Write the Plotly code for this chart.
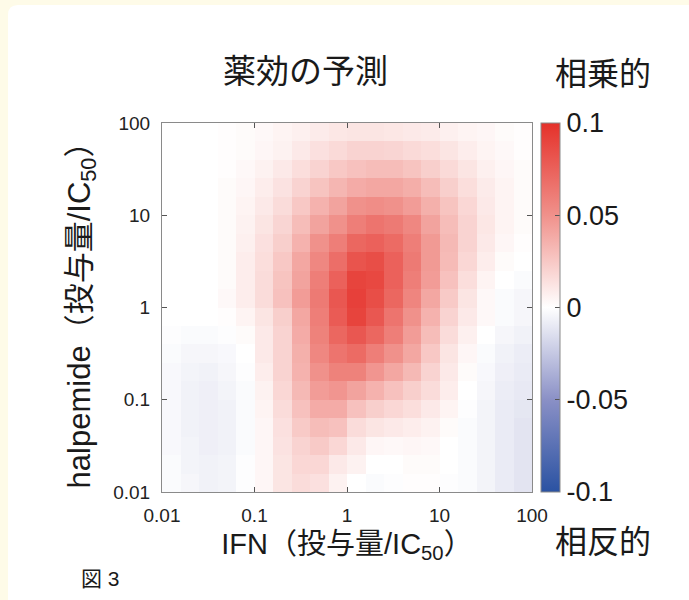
import numpy as np
import plotly.graph_objects as go

# ---- data ----
# cell edges on both axes, as log10(dose / IC50)
ifn_edges_log10 = [-2.0, -1.8, -1.6, -1.4, -1.2, -1.0, -0.8, -0.6, -0.4, -0.2, 0.0,
                   0.2, 0.4, 0.6, 0.8, 1.0, 1.2, 1.4, 1.6, 1.8, 2.0]
halpemide_edges_log10 = [-2.0, -1.8, -1.6, -1.4, -1.2, -1.0, -0.8, -0.6, -0.4, -0.2, 0.0,
                         0.2, 0.4, 0.6, 0.8, 1.0, 1.2, 1.4, 1.6, 1.8, 2.0]

# predicted interaction, rows listed from top (halpemide 100) to bottom (0.01),
# columns from left (IFN 0.01) to right (IFN 100)
effect_rows_top_to_bottom = [
    [0, 0, 0, 0.001, 0.002, 0.003, 0.005, 0.007, 0.009, 0.011, 0.012, 0.012, 0.011, 0.010, 0.009, 0.007, 0.005, 0.004, 0.002, 0.001],
    [0, 0, 0, 0.001, 0.002, 0.004, 0.006, 0.010, 0.014, 0.017, 0.020, 0.020, 0.019, 0.017, 0.015, 0.012, 0.008, 0.005, 0.003, 0.001],
    [0, 0, 0, 0.001, 0.003, 0.006, 0.010, 0.015, 0.020, 0.025, 0.028, 0.030, 0.030, 0.027, 0.022, 0.017, 0.012, 0.007, 0.004, 0.002],
    [0, 0, 0, 0.002, 0.004, 0.008, 0.013, 0.020, 0.027, 0.033, 0.038, 0.040, 0.040, 0.037, 0.030, 0.022, 0.015, 0.009, 0.005, 0.002],
    [0, 0, 0, 0.002, 0.005, 0.010, 0.016, 0.025, 0.035, 0.042, 0.050, 0.052, 0.050, 0.045, 0.036, 0.027, 0.018, 0.010, 0.005, 0.002],
    [0, 0, 0, 0.002, 0.006, 0.012, 0.019, 0.030, 0.042, 0.050, 0.060, 0.065, 0.062, 0.055, 0.042, 0.030, 0.020, 0.011, 0.005, 0.002],
    [0, 0, 0, 0.002, 0.007, 0.014, 0.022, 0.035, 0.050, 0.060, 0.072, 0.075, 0.070, 0.060, 0.046, 0.032, 0.020, 0.010, 0.004, 0.001],
    [0, 0, 0, 0.002, 0.008, 0.015, 0.025, 0.040, 0.055, 0.068, 0.082, 0.085, 0.075, 0.062, 0.046, 0.031, 0.018, 0.008, 0.002, 0.000],
    [0, 0, 0, 0.002, 0.008, 0.016, 0.027, 0.042, 0.060, 0.075, 0.090, 0.088, 0.075, 0.060, 0.045, 0.028, 0.015, 0.005, 0.000, -0.002],
    [0, 0, 0, 0.003, 0.008, 0.016, 0.028, 0.045, 0.062, 0.080, 0.092, 0.085, 0.072, 0.056, 0.040, 0.024, 0.012, 0.003, -0.002, -0.004],
    [0, 0, 0, 0.001, 0.005, 0.012, 0.022, 0.040, 0.060, 0.078, 0.090, 0.080, 0.065, 0.050, 0.035, 0.020, 0.010, 0.003, -0.002, -0.004],
    [-0.001, -0.002, -0.002, -0.001, 0.002, 0.010, 0.020, 0.038, 0.058, 0.072, 0.080, 0.072, 0.060, 0.045, 0.030, 0.016, 0.007, 0.000, -0.004, -0.006],
    [-0.002, -0.004, -0.004, -0.003, 0.000, 0.010, 0.020, 0.036, 0.055, 0.065, 0.070, 0.060, 0.050, 0.040, 0.025, 0.012, 0.004, -0.002, -0.006, -0.008],
    [-0.003, -0.005, -0.006, -0.004, -0.001, 0.008, 0.020, 0.035, 0.050, 0.058, 0.058, 0.048, 0.040, 0.032, 0.020, 0.010, 0.002, -0.003, -0.007, -0.009],
    [-0.003, -0.006, -0.007, -0.005, -0.002, 0.006, 0.018, 0.032, 0.045, 0.048, 0.042, 0.035, 0.028, 0.022, 0.016, 0.008, 0.000, -0.004, -0.008, -0.010],
    [-0.003, -0.006, -0.007, -0.006, -0.002, 0.005, 0.016, 0.028, 0.038, 0.038, 0.028, 0.022, 0.018, 0.015, 0.010, 0.005, -0.001, -0.005, -0.009, -0.011],
    [-0.003, -0.006, -0.007, -0.006, -0.002, 0.004, 0.014, 0.024, 0.030, 0.028, 0.016, 0.012, 0.010, 0.008, 0.006, 0.002, -0.002, -0.005, -0.009, -0.012],
    [-0.003, -0.005, -0.007, -0.006, -0.002, 0.004, 0.013, 0.020, 0.024, 0.018, 0.010, 0.004, 0.003, 0.004, 0.003, 0.000, -0.002, -0.005, -0.009, -0.012],
    [-0.002, -0.005, -0.006, -0.005, -0.001, 0.004, 0.012, 0.018, 0.018, 0.010, 0.006, 0.000, 0.000, 0.002, 0.002, 0.000, -0.002, -0.005, -0.009, -0.012],
    [-0.002, -0.004, -0.006, -0.005, -0.001, 0.004, 0.012, 0.016, 0.014, 0.006, 0.000, -0.002, -0.001, 0.001, 0.001, -0.001, -0.002, -0.005, -0.009, -0.012],
]

axis_tick_values = [0.01, 0.1, 1, 10, 100]
axis_tick_labels = ["0.01", "0.1", "1", "10", "100"]
cbar_tick_values = [-0.1, -0.05, 0, 0.05, 0.1]
cbar_tick_labels = ["-0.1", "-0.05", "0", "0.05", "0.1"]

# ---- figure geometry (pixels) ----
W, H = 689, 600
L, R, T, B = 162, 532, 123, 492


def px(x):
    return (x - L) / (R - L)


def py(y):
    return (B - y) / (B - T)


z = np.array(effect_rows_top_to_bottom[::-1])
x_edges = 10 ** np.array(ifn_edges_log10)
y_edges = 10 ** np.array(halpemide_edges_log10)

colorscale = [
    [0.0, "#2a52a2"],
    [0.25, "#8a90c6"],
    [0.5, "#ffffff"],
    [0.75, "#f0918b"],
    [1.0, "#e5312a"],
]

MIX = "Liberation Sans, Arial, Noto Sans CJK JP, sans-serif"
CJK = "Noto Sans CJK JP, Noto Sans, sans-serif"
LAT = "Liberation Sans, Arial, Helvetica, sans-serif"
INK = "#1a1a1a"

fig = go.Figure(
    go.Heatmap(
        x=x_edges,
        y=y_edges,
        z=z,
        zmin=-0.1,
        zmax=0.1,
        colorscale=colorscale,
        zsmooth=False,
        colorbar=dict(
            x=px(541), xanchor="left", xpad=0,
            y=0.5, yanchor="middle", ypad=0,
            len=1, lenmode="fraction",
            thickness=19,
            outlinecolor="#8a8a8a", outlinewidth=1,
            tickmode="array", tickvals=cbar_tick_values, ticktext=cbar_tick_labels,
            ticks="inside", ticklen=5, tickcolor="#555555",
            tickfont=dict(family=LAT, size=27, color=INK),
        ),
    )
)

axis_common = dict(
    type="log",
    range=[-2, 2],
    tickmode="array",
    tickvals=axis_tick_values,
    ticktext=axis_tick_labels,
    ticks="inside",
    ticklen=5,
    tickcolor="#555555",
    showline=True,
    linecolor="#8a8a8a",
    linewidth=1,
    mirror="ticks",
    showgrid=False,
    zeroline=False,
    tickfont=dict(family=LAT, size=19, color="#222222"),
)

fig.update_xaxes(
    **axis_common,
    ticklabelstandoff=6,
    title=dict(text="IFN（投与量/IC<sub>50</sub>）", font=dict(family=MIX, size=29, color=INK), standoff=8),
)
fig.update_yaxes(
    **axis_common,
    ticklabelstandoff=7,
    title=dict(text="halpemide（投与量/IC<sub>50</sub>）", font=dict(family=MIX, size=31, color=INK), standoff=13),
)

# cream frame with rounded inner corner
cream = "#fefbe8"
path = (
    f"M {px(0)},{py(0)} L {px(W)},{py(0)} L {px(W)},{py(5)} L {px(18)},{py(5)} "
    f"Q {px(8)},{py(5)} {px(8)},{py(15)} L {px(8)},{py(H)} L {px(0)},{py(H)} Z"
)
fig.add_shape(type="path", path=path, xref="paper", yref="paper",
              fillcolor=cream, line=dict(width=0), layer="below")

annotations = [
    dict(text="薬効の予測", x=px(305), y=py(69), font=dict(family=CJK, size=33, color=INK)),
    dict(text="相乗的", x=px(603), y=py(71), font=dict(family=CJK, size=32, color=INK)),
    dict(text="相反的", x=px(603), y=py(539), font=dict(family=CJK, size=32, color=INK)),
    dict(text="図 3", x=px(79), y=py(578), xanchor="left", font=dict(family=MIX, size=21, color=INK)),
]
for a in annotations:
    a.setdefault("xanchor", "center")
    fig.add_annotation(xref="paper", yref="paper", yanchor="middle", showarrow=False, **a)

fig.update_layout(
    width=W,
    height=H,
    margin=dict(l=L, r=W - R, t=T, b=H - B, autoexpand=False),
    paper_bgcolor="#ffffff",
    plot_bgcolor="#ffffff",
)

fig.write_html(
    "out.html",
    config={"displayModeBar": False},
    post_script="document.body.style.margin='0';document.body.style.background='#fefbe8';",
)
